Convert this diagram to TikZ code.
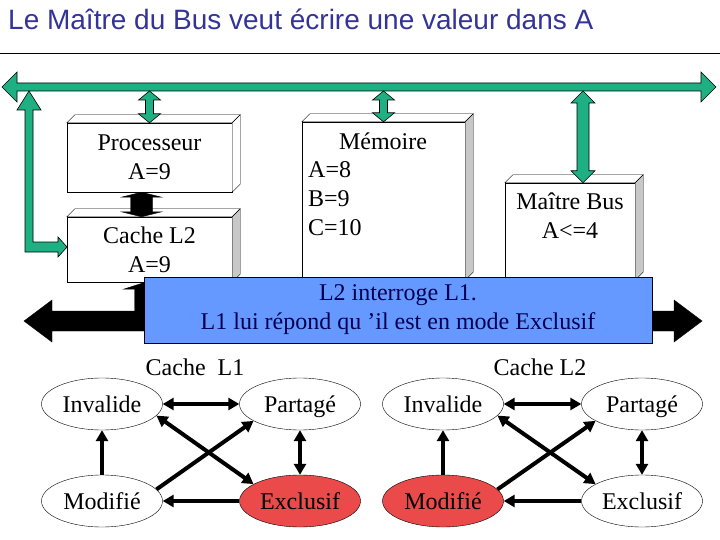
\documentclass[tikz,border=0pt]{standalone}
\usepackage{fontspec}
\setmainfont{Liberation Serif}
\newfontfamily\titlefont{Liberation Sans}
\usetikzlibrary{shapes.geometric,arrows.meta,calc}
\definecolor{busgreen}{RGB}{30,175,130}
\definecolor{titleblue}{RGB}{51,51,153}
\definecolor{msgblue}{RGB}{102,153,255}
\definecolor{msgtext}{RGB}{0,0,80}
\definecolor{statered}{RGB}{234,74,74}
\definecolor{sidegray}{RGB}{200,200,200}
% vertical block arrow: top point, bottom point, shaft, head, head length, style
\newcommand\vblock[6]{%
  \filldraw[#6] let \p1=#1, \p2=#2 in
    (\x1,\y1) -- (\x1+#4pt,\y1-#5pt) -- (\x1+#3pt,\y1-#5pt) -- (\x1+#3pt,\y2+#5pt)
    -- (\x1+#4pt,\y2+#5pt) -- (\x1,\y2) -- (\x1-#4pt,\y2+#5pt) -- (\x1-#3pt,\y2+#5pt)
    -- (\x1-#3pt,\y1-#5pt) -- (\x1-#4pt,\y1-#5pt) -- cycle;}
% horizontal block arrow: left point, right point, shaft, head, head length, style
\newcommand\hblock[6]{%
  \filldraw[#6] let \p1=#1, \p2=#2 in
    (\x1,\y1) -- (\x1+#5pt,\y1+#4pt) -- (\x1+#5pt,\y1+#3pt) -- (\x2-#5pt,\y1+#3pt)
    -- (\x2-#5pt,\y1+#4pt) -- (\x2,\y1) -- (\x2-#5pt,\y1-#4pt) -- (\x2-#5pt,\y1-#3pt)
    -- (\x1+#5pt,\y1-#3pt) -- (\x1+#5pt,\y1-#4pt) -- cycle;}
% top and side faces of a box node
\newcommand\slab[2]{%
  \filldraw[fill=white] (#1.north west) -- ++(8,-8) -- ([shift={(8,-8)}]#1.north east) -- (#1.north east) -- cycle;
  \filldraw[fill=#2] (#1.north east) -- ++(8,-8) -- ([shift={(8,-8)}]#1.south east) -- (#1.south east) -- cycle;}
\begin{document}
\begin{tikzpicture}[x=1pt, y=-1pt,
    font=\fontsize{24}{29}\selectfont,
    box/.style={draw, fill=white, inner sep=0pt, align=center},
    gblock/.style={fill=busgreen, draw=black, line width=0.6pt},
    kblock/.style={fill=black, draw=black},
    msg/.style={draw, fill=msgblue, text=msgtext, align=center, inner sep=0pt,
      minimum width=508pt, minimum height=66pt},
    state/.style={ellipse, draw, thin, minimum width=121pt, minimum height=52pt, inner sep=0pt,
      text height=19pt, text depth=3pt},
    >={Triangle[length=11pt,width=12pt]}]
  \useasboundingbox (0,0) rectangle (720,540);

  % title
  \node[anchor=base west, inner sep=0pt, text=titleblue,
    font=\titlefont\fontsize{28}{32}\selectfont] (title) at (8,30)
    {Le Maître du Bus veut écrire une valeur dans A};
  \draw (0,53.5) -- (720,53.5);

  % system bus
  \coordinate (gbusW) at (2,87);
  \coordinate (gbusE) at (716,87);
  \coordinate (gbus) at (0,91);
  \hblock{(gbusW)}{(gbusE)}{4}{15}{15}{gblock}

  % boxes
  \node[box, minimum width=165pt, minimum height=69pt] (proc) at (149.5,157.5) {Processeur\\A=9};
  \slab{proc}{white}
  \node[box, minimum width=165pt, minimum height=65pt] (cache) at (149.5,249.5) {Cache L2\\A=9};
  \slab{cache}{sidegray}
  \node[box, minimum width=163pt, minimum height=158pt] (mem) at (383.5,201) {};
  \slab{mem}{sidegray}
  \node (memname) at (383,141) {Mémoire};
  \node[anchor=west, align=left, inner sep=0pt] (memdata) at (308,199) {A=8\\B=9\\C=10};
  \node[box, minimum width=130pt, minimum height=97pt] (master) at (570,231.5) {};
  \slab{master}{sidegray}
  \node[align=center, inner sep=0pt] (mastertxt) at (570,215.5) {Maître Bus\\A<=4};

  % green arrows to the bus
  \coordinate (masterin) at ([xshift=13pt]master.north);
  \vblock{(proc.north |- gbus)}{(proc.north)}{4}{11}{9}{gblock}
  \vblock{(mem.north |- gbus)}{(mem.north)}{4}{11}{9}{gblock}
  \vblock{(masterin |- gbus)}{(masterin)}{6}{12}{12}{gblock}
  \filldraw[gblock] (25,252) -- (25,110) -- (17,110) -- (29,91) -- (41,110) -- (33,110)
    -- (33,242) -- (58,242) -- (58,237) -- (67,247) -- (58,257) -- (58,252) -- cycle;

  % black arrows and local bus
  \coordinate (kbusW) at (24,321);
  \coordinate (kbusE) at (702,321);
  \coordinate (pc) at ([xshift=-8pt]proc.south);
  \coordinate (cb) at ([xshift=-4pt]cache.south);
  \vblock{(pc)}{(pc |- cache.north)}{11}{20}{5}{kblock}
  \vblock{(cb)}{(cb |- kbusW)}{11}{22}{7}{kblock}
  \hblock{(kbusW)}{(kbusE)}{10}{21}{28}{kblock}

  \node[msg] (msg) at (398,310) {L2 interroge L1.\\L1 lui répond qu ’il est en mode Exclusif};

  % Cache L1 states
  \node (lab1) at (195,367) {Cache~~L1};
  \node[state] (inv1) at (102,404) {Invalide};
  \node[state] (par1) at (300,404) {Partagé};
  \node[state] (mod1) at (102,501) {Modifié};
  \node[state, fill=statered] (exc1) at (300,501) {Exclusif};

  % Cache L2 states
  \node (lab2) at (540,367) {Cache L2};
  \node[state] (inv2) at (443,404) {Invalide};
  \node[state] (par2) at (642,404) {Partagé};
  \node[state, fill=statered] (mod2) at (443,501) {Modifié};
  \node[state] (exc2) at (642,501) {Exclusif};

  \begin{scope}[line width=4pt]
    \draw[<->] (inv1) -- (par1);
    \draw[->] (mod1) -- (inv1);
    \draw[->] (exc1) -- (mod1);
    \draw[<->] (par1) -- (exc1);
    \draw[<->] (inv1.-12) -- (exc1.160);
    \draw[->] (mod1.12) -- (par1.-160);
    \draw[<->] (inv2) -- (par2);
    \draw[->] (mod2) -- (inv2);
    \draw[->] (exc2) -- (mod2);
    \draw[<->] (par2) -- (exc2);
    \draw[<->] (inv2.-12) -- (exc2.160);
    \draw[->] (mod2.12) -- (par2.-160);
  \end{scope}
\end{tikzpicture}
\end{document}
